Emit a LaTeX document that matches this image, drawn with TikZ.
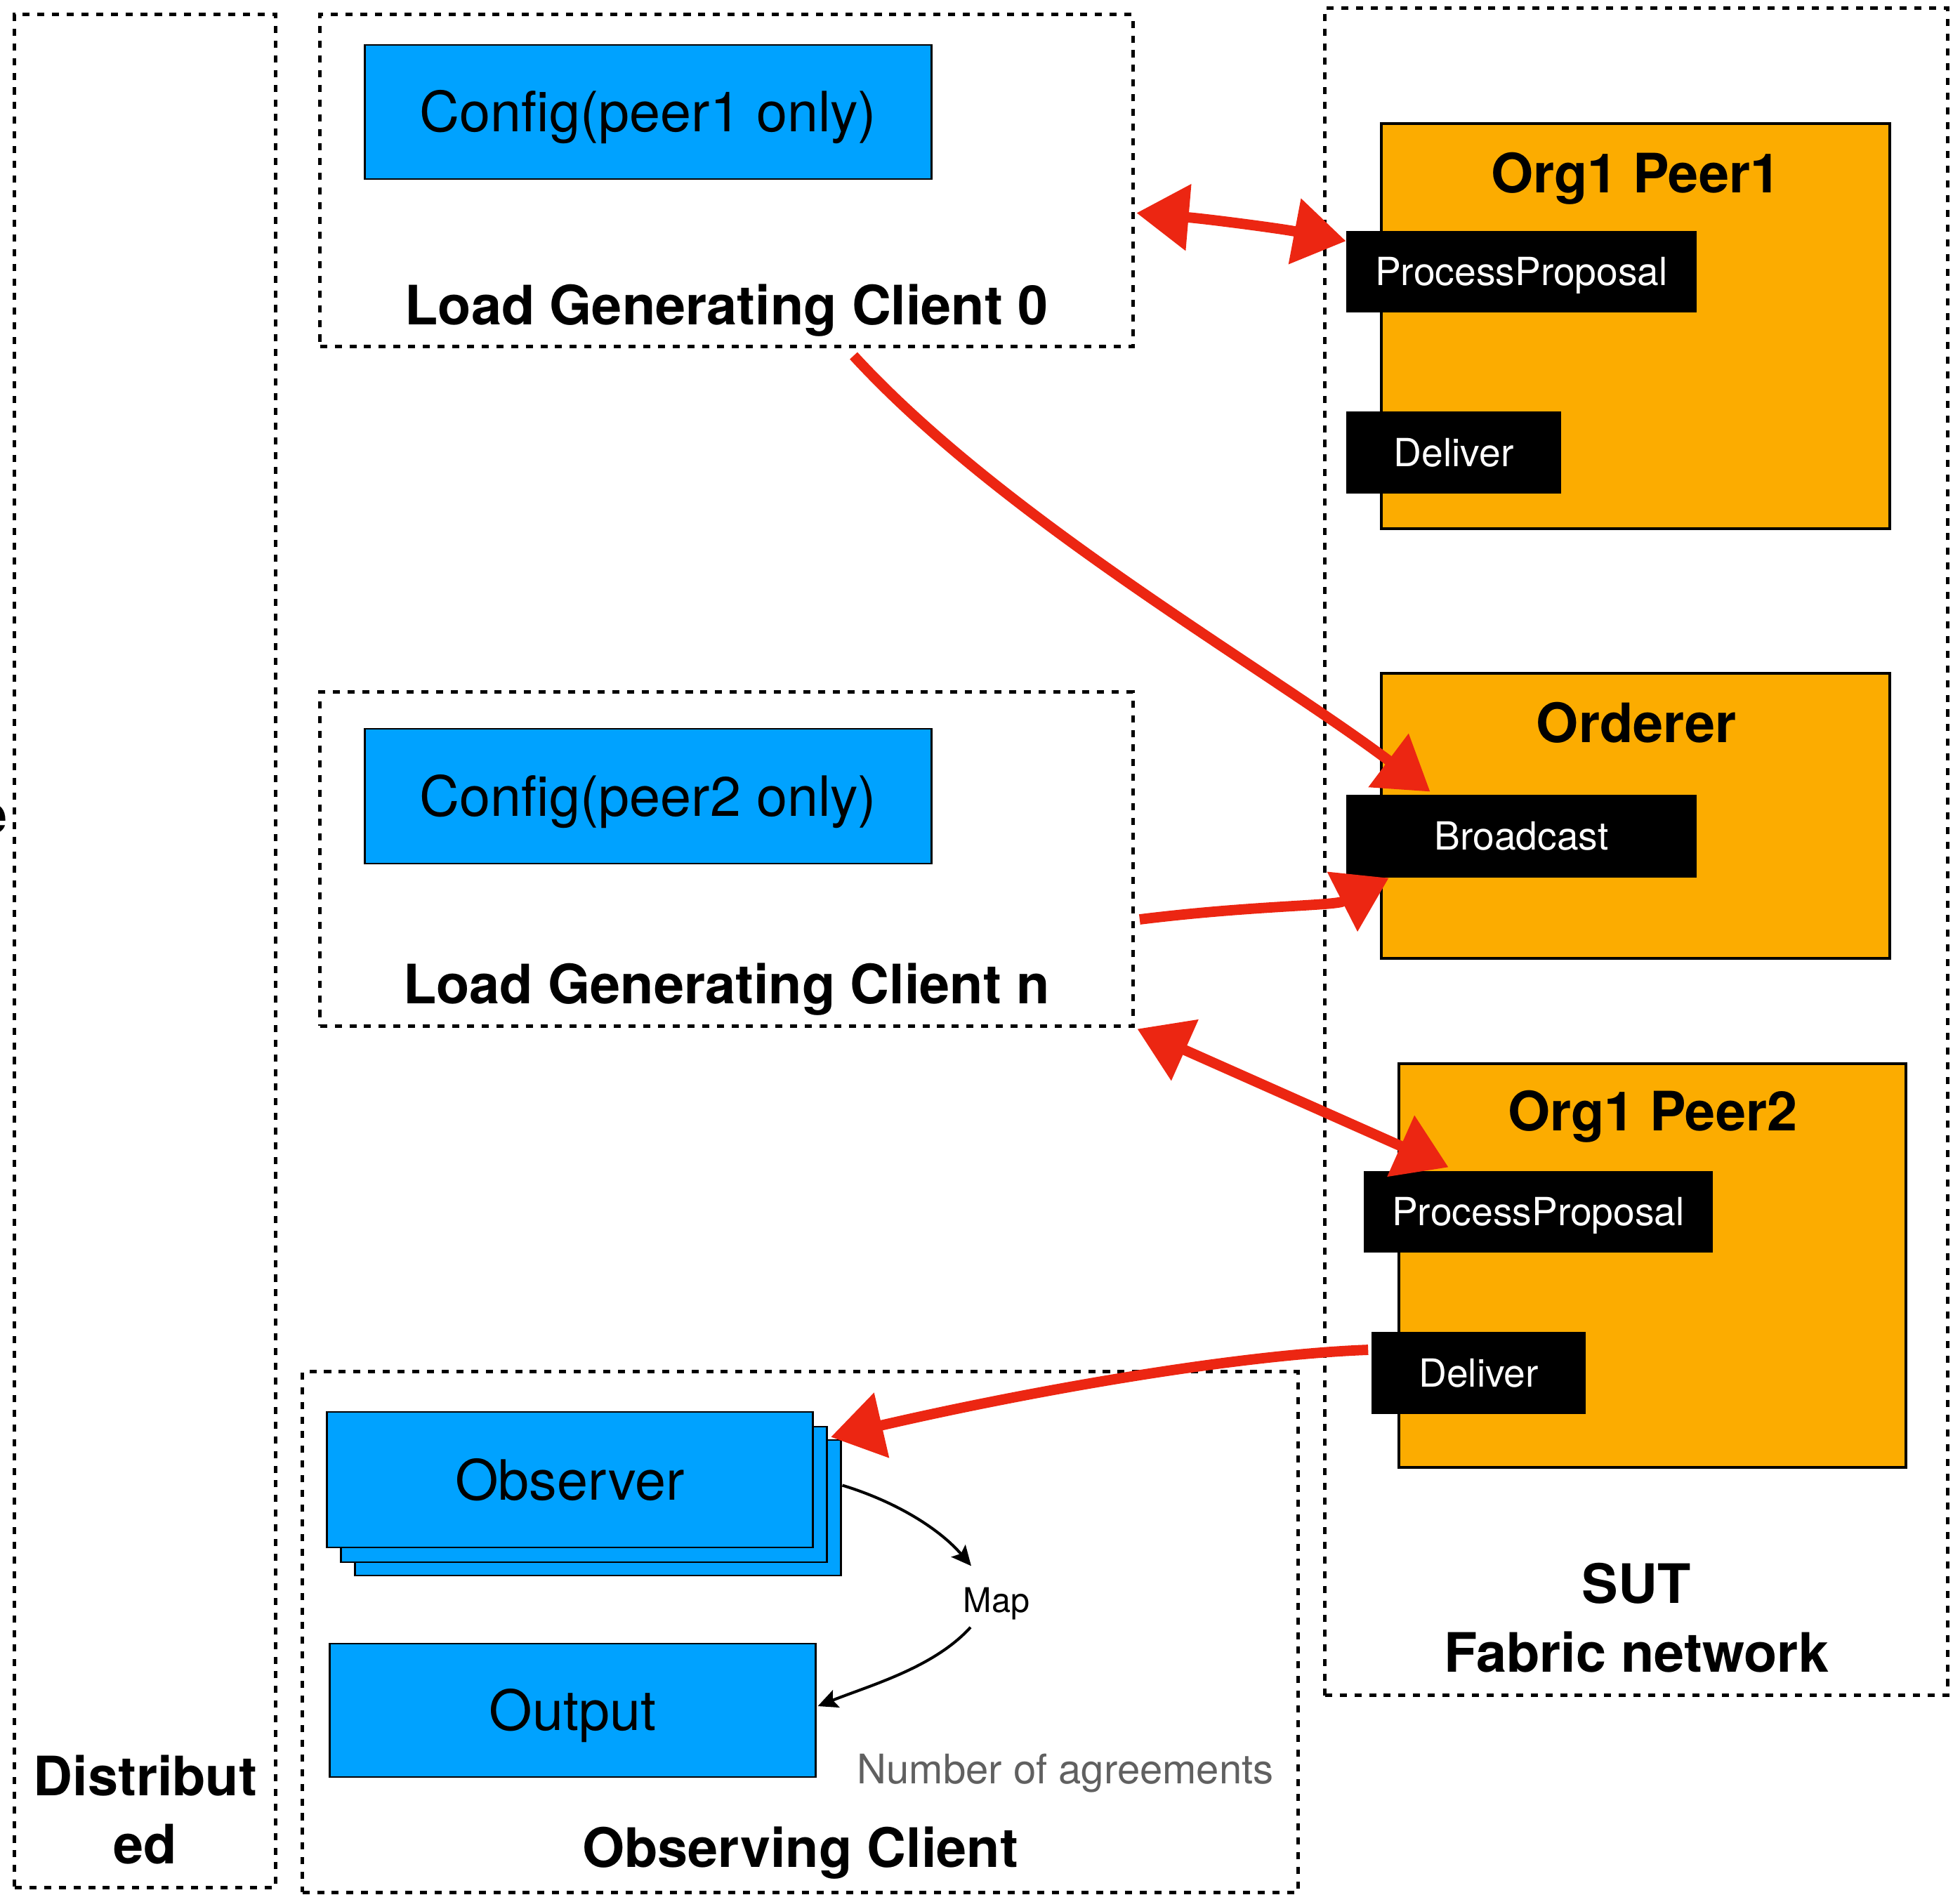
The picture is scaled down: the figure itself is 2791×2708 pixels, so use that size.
\documentclass[tikz,border=0pt]{standalone}
\usepackage{fontspec}
\setmainfont{TeX Gyre Heros}
\usetikzlibrary{arrows.meta,calc}
\definecolor{boxblue}{RGB}{0,162,255}
\definecolor{peerorange}{RGB}{252,172,0}
\definecolor{crayon}{RGB}{236,38,18}
\definecolor{notegray}{RGB}{96,96,96}
\begin{document}
\begin{tikzpicture}[x=0.01cm,y=-0.01cm,
  dotbox/.style={draw, line width=1.42pt, dash pattern=on 2.85pt off 3.1pt, inner sep=0pt},
  bluebox/.style={draw, fill=boxblue, line width=0.75pt, inner sep=0pt, text height=16.2pt, text depth=0pt, font=\fontsize{22.5}{27}\selectfont},
  orangebox/.style={draw, fill=peerorange, line width=1.1pt, inner sep=0pt},
  blackbox/.style={fill=black, text=white, inner sep=0pt, text height=11.3pt, text depth=0pt, font=\fontsize{15.7}{19}\selectfont},
  boldlabel/.style={font=\fontsize{22}{26}\selectfont\bfseries, inner sep=0pt, anchor=base},
  crayonline/.style={draw=crayon, line width=4.2pt},
  crayonone/.style={crayonline, arrows={-Triangle[length=21pt,width=27pt,line width=1pt]}},
  crayontwo/.style={crayonline, arrows={Triangle[length=21pt,width=27pt,line width=1pt]-Triangle[length=21pt,width=27pt,line width=1pt]}},
  flow/.style={draw, line width=1.15pt, arrows={-Stealth[length=8pt,width=7.5pt,inset=1.5pt]}}
]
\useasboundingbox (0,0) rectangle (2791,2708);

% dotted frames
\node[dotbox, minimum width=3.71cm, minimum height=26.67cm] (dist) at (206.5,1354.5) {};
\node[dotbox, minimum width=11.57cm, minimum height=4.72cm] (lg0) at (1034.5,257) {};
\node[dotbox, minimum width=11.57cm, minimum height=4.75cm] (lgn) at (1034.5,1223.5) {};
\node[dotbox, minimum width=14.17cm, minimum height=7.41cm] (obsc) at (1139.5,2324.5) {};
\node[dotbox, minimum width=8.86cm, minimum height=24.02cm] (sut) at (2330,1213) {};

% frame labels
\node[boldlabel] (lg0label) at (1034.5,462) {Load Generating Client 0};
\node[boldlabel] (lgnlabel) at (1034.5,1429) {Load Generating Client n};
\node[boldlabel] (obsclabel) at (1139.5,2659) {Observing Client};
\node[boldlabel] (sutlabel) at (2330,2283) {SUT};
\node[boldlabel] (fablabel) at (2330,2381) {Fabric network};
\node[boldlabel] (distlabel) at (207,2557) {Distribut};
\node[boldlabel] (edlabel) at (207,2654) {ed};
\node[boldlabel, anchor=base east] (cut) at (11,1187) {e};

% blue boxes
\node[bluebox, minimum width=8.06cm, minimum height=1.91cm] (cfg1) at (923,159.5) {Config(peer1 only)};
\node[bluebox, minimum width=8.06cm, minimum height=1.92cm] (cfg2) at (923,1134) {Config(peer2 only)};
\node[bluebox, minimum width=6.91cm, minimum height=1.93cm] (obs3) at (851.5,2147.5) {};
\node[bluebox, minimum width=6.91cm, minimum height=1.93cm] (obs2) at (831.5,2128.5) {};
\node[bluebox, minimum width=6.91cm, minimum height=1.93cm] (obs1) at (811.5,2107.5) {Observer};
\node[bluebox, minimum width=6.91cm, minimum height=1.90cm] (out) at (815.5,2436) {Output};

% orange boxes
\node[orangebox, minimum width=7.24cm, minimum height=5.77cm] (p1) at (2329,464.5) {};
\node[boldlabel] (p1label) at (2329,274) {Org1 Peer1};
\node[orangebox, minimum width=7.24cm, minimum height=4.06cm] (ord) at (2329,1162) {};
\node[boldlabel] (ordlabel) at (2330,1057) {Orderer};
\node[orangebox, minimum width=7.22cm, minimum height=5.75cm] (p2) at (2353,1802.5) {};
\node[boldlabel] (p2label) at (2353,1610) {Org1 Peer2};

% black service boxes
\node[blackbox, minimum width=4.99cm, minimum height=1.16cm] (pp1) at (2166.5,387) {ProcessProposal};
\node[blackbox, minimum width=3.06cm, minimum height=1.17cm] (del1) at (2070,644.5) {Deliver};
\node[blackbox, minimum width=4.99cm, minimum height=1.18cm] (bc) at (2166.5,1191) {Broadcast};
\node[blackbox, minimum width=4.97cm, minimum height=1.16cm] (pp2) at (2190.5,1726) {ProcessProposal};
\node[blackbox, minimum width=3.05cm, minimum height=1.17cm] (del2) at (2105.5,1955.5) {Deliver};

% map and note
\node[inner sep=0pt, font=\fontsize{13.8}{16}\selectfont] (map) at (1419,2284) {Map};
\node[inner sep=0pt, anchor=base west, text=notegray, font=\fontsize{16.5}{20}\selectfont] (note) at (1220,2540) {Number of agreements};

% red connectors
\draw[crayontwo] ($(lg0.north east)+(3,285)$) .. controls (1720,312) and (1820,325) .. ($(pp1.north west)+(0,15)$);
\draw[crayonone] ($(lg0.south)+(181,11)$) .. controls (1430,740) and (1800,950) .. ($(bc.north west)+(120,-4)$);
\draw[crayonone] ($(lgn.east)+(7,86)$) .. controls (1780,1290) and (1900,1290) .. ($(bc.south west)+(61,0)$);
\draw[crayontwo] ($(lgn.south east)+(4,2)$) -- ($(pp2.north west)+(121,-5)$);
\draw[crayonone] ($(del2.west)+(-4,-33)$) .. controls (1750,1930) and (1450,1985) .. ($(obs3.north east)+(-15,-3)$);

% black connectors
\draw[flow] ($(obs3.east)+(1,-32)$) .. controls (1280,2140) and (1340,2180) .. ($(map.north)+(-36,-30)$);
\draw[flow] ($(map.south)+(-37,10)$) .. controls (1330,2375) and (1240,2400) .. ($(out.east)+(2,-6)$);
\end{tikzpicture}
\end{document}
